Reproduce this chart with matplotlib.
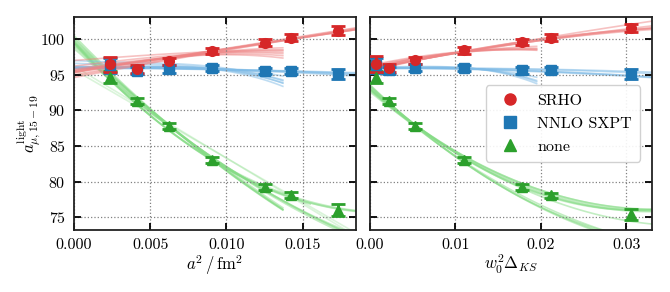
import numpy as np
import matplotlib
matplotlib.use("Agg")
import matplotlib.pyplot as plt
from matplotlib.lines import Line2D
from matplotlib.ticker import FormatStrFormatter, MultipleLocator

plt.rcParams["font.family"] = ["serif"]
plt.rcParams["font.serif"] = ["cmr10", "DejaVu Serif"]
plt.rcParams["mathtext.fontset"] = "cm"
plt.rcParams["axes.formatter.use_mathtext"] = True
plt.rcParams["axes.unicode_minus"] = False

# ensembles: lattice spacing a^2 [fm^2] and taste splitting w0^2 Delta_KS
a2 = [0.00237, 0.00414, 0.00625, 0.00908, 0.0125, 0.01421, 0.0173]
w0d = [0.00074, 0.00224, 0.00526, 0.0110, 0.0178, 0.0212, 0.0305]

# left panel values
srho_l = [96.45, 95.85, 96.9, 98.3, 99.5, 100.2, 101.2]
nnlo_l = [96.3, 95.55, 95.8, 95.95, 95.55, 95.55, 95.1]
none_l = [94.65, 91.3, 87.8, 83.0, 79.2, 78.1, 76.0]

# right panel values
srho_r = [96.5, 95.95, 97.0, 98.4, 99.6, 100.2, 101.55]
nnlo_r = [96.3, 95.6, 95.95, 95.95, 95.6, 95.7, 95.1]
none_r = [94.65, 91.3, 87.8, 83.05, 79.2, 78.05, 75.4]

srho_err = [1.1, 0.55, 0.5, 0.45, 0.45, 0.45, 0.6]
nnlo_err = [1.0, 0.5, 0.5, 0.45, 0.45, 0.45, 0.7]
none_err = [0.85, 0.45, 0.4, 0.4, 0.45, 0.4, 0.8]

# fit curves: (c0, c1, c2, c3, x_end) in units of x/0.01
fits_srho_l = [
    (95.3, 3.4, 0.0, 0.0, 1.9),
    (95.0, 3.7, -0.1, 0.0, 1.9),
    (95.6, 3.0, 0.05, 0.0, 1.9),
    (94.8, 3.9, -0.2, 0.0, 1.9),
    (95.4, 3.2, 0.02, 0.0, 1.9),
    (94.6, 4.1, -0.25, 0.0, 1.9),
    (95.5, 3.3, 0.0, -0.6, 1.37),
    (95.6, 3.2, 0.0, -0.9, 1.37),
    (95.3, 3.6, 0.0, -0.8, 1.37),
    (95.8, 3.0, 0.0, -1.0, 1.37),
    (95.4, 3.4, 0.0, -0.5, 1.37),
    (96.2, 2.6, 0.0, -0.7, 1.37),
    (97.0, 1.6, 0.0, -0.3, 1.37),
]
fits_nnlo_l = [
    (96.0, 0.0, -0.3, 0.0, 1.9),
    (95.8, 0.3, -0.45, 0.0, 1.9),
    (96.1, -0.3, -0.1, 0.0, 1.9),
    (95.9, 0.2, -0.35, 0.0, 1.9),
    (96.2, -0.4, -0.05, 0.0, 1.9),
    (95.9, 0.0, 1.2, -1.3, 1.37),
    (95.9, 0.0, 1.6, -1.8, 1.37),
    (96.0, -0.2, 2.0, -2.2, 1.37),
    (96.1, -0.4, 2.4, -2.6, 1.37),
    (96.6, -0.9, 2.2, -2.2, 1.37),
    (97.0, -1.3, 2.3, -2.1, 1.37),
]
fits_none_l = [
    (99.5, -23.34, 5.69, 0.0, 1.9),
    (99.3, -22.8, 5.5, 0.0, 1.9),
    (99.7, -23.7, 5.85, 0.0, 1.9),
    (99.5, -23.3, 5.6, 0.0, 1.55),
    (100.0, -21.0, 2.6, 0.0, 1.37),
    (100.5, -22.0, 3.0, 0.0, 1.37),
    (99.6, -20.0, 2.2, 0.0, 1.37),
    (100.2, -21.6, 2.9, 0.0, 1.37),
    (99.8, -20.6, 2.4, 0.0, 1.37),
    (99.0, -19.85, 2.92, 0.0, 1.9),
    (99.5, -20.6, 3.1, 0.0, 1.9),
    (98.7, -19.3, 2.7, 0.0, 1.9),
    (99.3, -20.4, 3.2, 0.0, 1.9),
]
fits_none_l_faint = [
    (95.7, -12.4, 0.0, 0.0, 1.9),
    (96.2, -12.9, 0.0, 0.0, 1.9),
]

fits_srho_r = [
    (95.7, 2.6, -0.27, 0.0, 3.4),
    (95.8, 2.4, -0.2, 0.0, 3.4),
    (95.6, 2.8, -0.3, 0.0, 3.4),
    (95.9, 2.2, -0.12, 0.0, 3.4),
    (95.5, 2.9, -0.33, 0.0, 3.4),
    (95.8, 2.3, -0.08, 0.0, 3.4),
    (96.0, 2.6, -0.55, 0.0, 1.95),
    (95.9, 3.0, -0.8, 0.0, 1.95),
    (96.2, 2.5, -0.65, 0.0, 1.95),
    (95.8, 3.2, -0.95, 0.0, 1.95),
    (96.3, 2.6, -0.75, 0.0, 1.95),
]
fits_nnlo_r = [
    (95.9, 0.1, -0.08, 0.0, 3.4),
    (96.0, 0.0, -0.12, 0.0, 3.4),
    (95.8, 0.2, -0.12, 0.0, 3.4),
    (96.0, -0.1, -0.1, 0.0, 3.4),
    (95.9, 0.05, -0.13, 0.0, 3.4),
    (95.9, 0.1, 0.3, -0.35, 1.95),
    (96.0, 0.0, 0.5, -0.5, 1.95),
    (95.8, 0.2, 0.6, -0.6, 1.95),
    (96.1, -0.1, 0.7, -0.65, 1.95),
]
fits_none_r = [
    (93.0, -10.5, 1.6, 0.0, 3.4),
    (92.8, -10.0, 1.5, 0.0, 3.4),
    (93.3, -11.0, 1.75, 0.0, 3.4),
    (93.0, -10.3, 1.55, 0.0, 3.4),
    (92.6, -9.8, 1.45, 0.0, 3.4),
    (93.4, -11.2, 1.8, 0.0, 3.4),
    (93.2, -11.0, 1.3, 0.0, 3.4),
    (93.5, -11.3, 1.35, 0.0, 3.4),
    (92.9, -10.5, 1.2, 0.0, 3.4),
    (93.0, -10.3, 1.38, 0.0, 3.4),
    (93.6, -11.6, 1.5, 0.0, 3.4),
]

RED, BLUE, GREEN = "#d62728", "#1f77b4", "#2ca02c"
FIT_RED, FIT_BLUE, FIT_GREEN = "#ee8585", "#7fbbe6", "#86dc86"


def draw_fits(ax, fits, color, alpha=0.5, lw=1.2):
    for c0, c1, c2, c3, end in fits:
        u = np.linspace(0, end, 120)
        y = c0 + c1 * u + c2 * u ** 2 + c3 * u ** 3
        ax.plot(u * 0.01, y, color=color, alpha=alpha, lw=lw, zorder=1)


def draw_points(ax, x, y, err, color, marker, ms):
    ax.errorbar(x, y, yerr=err, fmt=marker, color=color, ms=ms,
                elinewidth=2, capsize=5, capthick=2, zorder=5)


fig = plt.figure(figsize=(6.7, 2.92), dpi=100)
ax1 = fig.add_axes([0.1104, 0.2123, 0.4209, 0.7295])
ax2 = fig.add_axes([0.5522, 0.2123, 0.4209, 0.7295], sharey=ax1)

draw_fits(ax1, fits_none_l_faint, FIT_GREEN, alpha=0.3)
draw_fits(ax1, fits_none_l, FIT_GREEN)
draw_fits(ax1, fits_nnlo_l, FIT_BLUE)
draw_fits(ax1, fits_srho_l, FIT_RED)
draw_points(ax1, a2, none_l, none_err, GREEN, "^", 7.5)
draw_points(ax1, a2, nnlo_l, nnlo_err, BLUE, "s", 7)
draw_points(ax1, a2, srho_l, srho_err, RED, "o", 7)

draw_fits(ax2, fits_none_r, FIT_GREEN)
draw_fits(ax2, fits_nnlo_r, FIT_BLUE)
draw_fits(ax2, fits_srho_r, FIT_RED)
draw_points(ax2, w0d, none_r, none_err, GREEN, "^", 7.5)
draw_points(ax2, w0d, nnlo_r, nnlo_err, BLUE, "s", 7)
draw_points(ax2, w0d, srho_r, srho_err, RED, "o", 7)

for ax in (ax1, ax2):
    ax.set_ylim(73.2, 103.1)
    ax.yaxis.set_major_locator(MultipleLocator(5))
    ax.grid(True, ls=":", color="gray", lw=0.9)
    ax.tick_params(direction="in", top=True, right=True, length=5, width=1.3,
                   labelsize=11.5, pad=6)
    for s in ax.spines.values():
        s.set_linewidth(1.3)
        s.set_color("#222222")

ax1.set_xlim(0, 0.0185)
ax1.xaxis.set_major_locator(MultipleLocator(0.005))
ax1.xaxis.set_major_formatter(FormatStrFormatter("%.3f"))
ax1.set_xlabel(r"$a^2\,/\,\mathrm{fm}^2$", fontsize=12, labelpad=1)
ax1.set_ylabel(r"$a_{\mu,15-19}^{\mathrm{light}}$", fontsize=12, labelpad=-1)

ax2.set_xlim(0, 0.033)
ax2.xaxis.set_major_locator(MultipleLocator(0.01))
ax2.xaxis.set_major_formatter(FormatStrFormatter("%.2f"))
ax2.set_xlabel(r"$w_0^2\Delta_{KS}$", fontsize=12, labelpad=1)
ax2.tick_params(labelleft=False)

handles = [
    Line2D([], [], ls="none", marker="o", color=RED, ms=8),
    Line2D([], [], ls="none", marker="s", color=BLUE, ms=8),
    Line2D([], [], ls="none", marker="^", color=GREEN, ms=8),
]
ax2.legend(handles, ["SRHO", "NNLO SXPT", "none"], loc="center right",
           bbox_to_anchor=(0.985, 0.5), fontsize=11.5, framealpha=0.9,
           edgecolor="#cccccc", handlelength=2.0, handletextpad=0.7,
           labelspacing=0.55, borderpad=0.5)

fig.savefig("out.png", dpi=100)
